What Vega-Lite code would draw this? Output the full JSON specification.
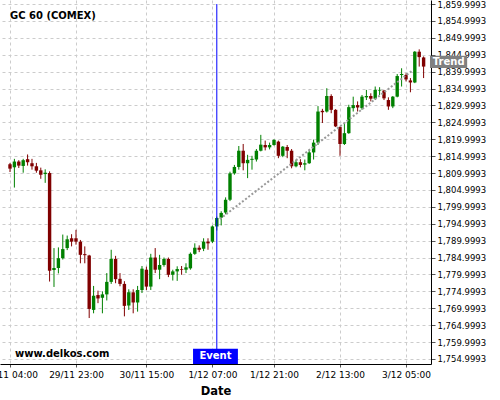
{
  "$schema": "https://vega.github.io/schema/vega-lite/v6.json",
  "width": 431,
  "height": 364,
  "autosize": {"type": "none"},
  "padding": {"left": 0, "top": 0, "right": 69, "bottom": 36},
  "background": "white",
  "config": {
    "view": {"stroke": null},
    "font": "DejaVu Sans",
    "axisX": {"titleFontSize": 11.5, "titleFontWeight": "bold", "titleColor": "black", "titlePadding": 6,
      "labelFontSize": 9, "labelColor": "black", "labelFlush": false, "labelOverlap": false, "labelPadding": 3,
      "domainColor": "black", "tickColor": "#555555", "tickSize": 3,
      "grid": true, "gridColor": "#cccccc", "gridDash": [3, 3]},
    "axisY": {"labelFontSize": 8.5, "labelColor": "black", "labelPadding": 2, "labelOverlap": false, "labelFlush": false,
      "domainColor": "black", "tickColor": "#555555", "tickSize": 4, "tickCount": 40,
      "grid": true, "gridColor": "#cccccc", "gridDash": [3, 3]}
  },
  "data": {"values": [
    {"i":0,"o":1812.6,"h":1813.0,"l":1810.3,"c":1811.3},
    {"i":1,"o":1811.7,"h":1814.2,"l":1805.7,"c":1813.4},
    {"i":2,"o":1813.4,"h":1813.8,"l":1811.5,"c":1812.2},
    {"i":3,"o":1812.1,"h":1814.2,"l":1810.1,"c":1813.8},
    {"i":4,"o":1814.1,"h":1815.5,"l":1812.2,"c":1813.2},
    {"i":5,"o":1812.9,"h":1814.2,"l":1811.0,"c":1812.0},
    {"i":6,"o":1812.0,"h":1813.0,"l":1810.1,"c":1810.7},
    {"i":7,"o":1810.8,"h":1811.6,"l":1808.3,"c":1809.5},
    {"i":8,"o":1809.7,"h":1811.1,"l":1807.1,"c":1810.1},
    {"i":9,"o":1810.0,"h":1810.5,"l":1777.9,"c":1781.1},
    {"i":10,"o":1781.3,"h":1787.8,"l":1776.3,"c":1781.9},
    {"i":11,"o":1781.9,"h":1788.0,"l":1780.3,"c":1784.8},
    {"i":12,"o":1784.8,"h":1791.8,"l":1784.4,"c":1787.5},
    {"i":13,"o":1787.8,"h":1791.5,"l":1787.2,"c":1790.4},
    {"i":14,"o":1790.7,"h":1791.9,"l":1788.3,"c":1789.7},
    {"i":15,"o":1790.7,"h":1793.2,"l":1788.8,"c":1789.7},
    {"i":16,"o":1789.7,"h":1790.2,"l":1783.3,"c":1785.8},
    {"i":17,"o":1786.0,"h":1788.3,"l":1783.3,"c":1785.7},
    {"i":18,"o":1785.6,"h":1785.8,"l":1767.1,"c":1769.8},
    {"i":19,"o":1769.5,"h":1776.6,"l":1768.5,"c":1773.7},
    {"i":20,"o":1773.9,"h":1775.2,"l":1771.5,"c":1772.9},
    {"i":21,"o":1773.1,"h":1775.0,"l":1768.5,"c":1774.1},
    {"i":22,"o":1774.1,"h":1780.4,"l":1772.3,"c":1777.8},
    {"i":23,"o":1777.8,"h":1787.3,"l":1777.2,"c":1784.6},
    {"i":24,"o":1784.6,"h":1785.5,"l":1777.4,"c":1778.6},
    {"i":25,"o":1778.7,"h":1780.4,"l":1776.5,"c":1777.2},
    {"i":26,"o":1777.2,"h":1778.0,"l":1767.6,"c":1770.7},
    {"i":27,"o":1770.8,"h":1775.6,"l":1769.5,"c":1774.7},
    {"i":28,"o":1774.7,"h":1775.6,"l":1768.5,"c":1771.7},
    {"i":29,"o":1771.7,"h":1776.6,"l":1769.0,"c":1775.4},
    {"i":30,"o":1775.4,"h":1782.5,"l":1774.5,"c":1781.7},
    {"i":31,"o":1781.4,"h":1782.3,"l":1775.4,"c":1776.4},
    {"i":32,"o":1776.4,"h":1786.1,"l":1775.4,"c":1785.0},
    {"i":33,"o":1785.0,"h":1787.8,"l":1780.4,"c":1781.4},
    {"i":34,"o":1781.4,"h":1785.8,"l":1778.6,"c":1782.8},
    {"i":35,"o":1782.8,"h":1785.0,"l":1782.3,"c":1784.6},
    {"i":36,"o":1784.6,"h":1785.0,"l":1779.2,"c":1779.9},
    {"i":37,"o":1779.9,"h":1781.4,"l":1778.2,"c":1780.9},
    {"i":38,"o":1780.9,"h":1782.4,"l":1778.1,"c":1781.6},
    {"i":39,"o":1781.6,"h":1782.5,"l":1779.9,"c":1781.4},
    {"i":40,"o":1781.4,"h":1783.3,"l":1780.4,"c":1782.1},
    {"i":41,"o":1781.8,"h":1786.5,"l":1781.4,"c":1786.1},
    {"i":42,"o":1786.1,"h":1789.2,"l":1785.8,"c":1787.9},
    {"i":43,"o":1787.9,"h":1788.6,"l":1786.6,"c":1787.3},
    {"i":44,"o":1787.6,"h":1790.7,"l":1786.9,"c":1789.7},
    {"i":45,"o":1789.7,"h":1790.7,"l":1787.3,"c":1789.2},
    {"i":46,"o":1789.7,"h":1794.5,"l":1789.3,"c":1794.2},
    {"i":47,"o":1794.2,"h":1797.1,"l":1793.0,"c":1796.7},
    {"i":48,"o":1796.8,"h":1798.7,"l":1794.5,"c":1798.2},
    {"i":49,"o":1798.3,"h":1802.8,"l":1797.8,"c":1802.1},
    {"i":50,"o":1802.1,"h":1810.4,"l":1801.7,"c":1809.9},
    {"i":51,"o":1809.9,"h":1812.4,"l":1809.5,"c":1811.8},
    {"i":52,"o":1811.8,"h":1818.0,"l":1811.0,"c":1816.6},
    {"i":53,"o":1816.6,"h":1818.6,"l":1810.8,"c":1812.9},
    {"i":54,"o":1812.9,"h":1815.4,"l":1808.5,"c":1813.9},
    {"i":55,"o":1813.9,"h":1815.1,"l":1811.0,"c":1814.2},
    {"i":56,"o":1814.0,"h":1817.1,"l":1813.4,"c":1816.6},
    {"i":57,"o":1816.6,"h":1821.3,"l":1816.4,"c":1818.4},
    {"i":58,"o":1818.3,"h":1819.6,"l":1816.7,"c":1817.6},
    {"i":59,"o":1817.6,"h":1819.0,"l":1817.0,"c":1818.3},
    {"i":60,"o":1818.3,"h":1820.0,"l":1818.1,"c":1819.8},
    {"i":61,"o":1819.3,"h":1819.6,"l":1814.4,"c":1815.1},
    {"i":62,"o":1815.1,"h":1818.0,"l":1814.7,"c":1817.8},
    {"i":63,"o":1817.7,"h":1818.3,"l":1814.4,"c":1816.6},
    {"i":64,"o":1816.6,"h":1817.1,"l":1811.4,"c":1812.0},
    {"i":65,"o":1812.0,"h":1813.9,"l":1811.7,"c":1813.2},
    {"i":66,"o":1813.2,"h":1814.1,"l":1811.7,"c":1812.4},
    {"i":67,"o":1812.5,"h":1814.0,"l":1810.8,"c":1812.9},
    {"i":68,"o":1812.9,"h":1816.9,"l":1812.7,"c":1816.1},
    {"i":69,"o":1816.1,"h":1819.9,"l":1814.0,"c":1819.0},
    {"i":70,"o":1819.0,"h":1829.8,"l":1818.3,"c":1828.2},
    {"i":71,"o":1828.4,"h":1829.0,"l":1824.8,"c":1828.0},
    {"i":72,"o":1828.2,"h":1835.1,"l":1827.9,"c":1832.8},
    {"i":73,"o":1832.8,"h":1833.3,"l":1827.7,"c":1828.7},
    {"i":74,"o":1828.7,"h":1828.9,"l":1823.6,"c":1823.8},
    {"i":75,"o":1823.6,"h":1823.8,"l":1815.1,"c":1818.6},
    {"i":76,"o":1818.6,"h":1824.7,"l":1818.3,"c":1821.8},
    {"i":77,"o":1821.8,"h":1830.2,"l":1821.6,"c":1829.5},
    {"i":78,"o":1829.2,"h":1832.6,"l":1828.2,"c":1830.1},
    {"i":79,"o":1830.1,"h":1831.2,"l":1828.2,"c":1829.4},
    {"i":80,"o":1829.2,"h":1833.1,"l":1828.7,"c":1832.6},
    {"i":81,"o":1832.4,"h":1834.6,"l":1831.6,"c":1832.8},
    {"i":82,"o":1832.8,"h":1833.6,"l":1831.2,"c":1832.0},
    {"i":83,"o":1832.0,"h":1835.6,"l":1831.6,"c":1834.6},
    {"i":84,"o":1834.4,"h":1835.4,"l":1833.1,"c":1834.6},
    {"i":85,"o":1834.4,"h":1834.6,"l":1831.6,"c":1832.1},
    {"i":86,"o":1831.6,"h":1832.4,"l":1828.7,"c":1829.7},
    {"i":87,"o":1829.7,"h":1832.8,"l":1829.2,"c":1832.6},
    {"i":88,"o":1832.6,"h":1839.3,"l":1832.4,"c":1838.7},
    {"i":89,"o":1839.0,"h":1841.0,"l":1835.6,"c":1839.3},
    {"i":90,"o":1839.0,"h":1839.5,"l":1837.1,"c":1837.7},
    {"i":91,"o":1837.4,"h":1838.1,"l":1833.9,"c":1836.8},
    {"i":92,"o":1836.8,"h":1846.1,"l":1836.6,"c":1845.9},
    {"i":93,"o":1845.9,"h":1846.6,"l":1841.5,"c":1844.3},
    {"i":94,"o":1844.2,"h":1844.5,"l":1838.1,"c":1841.5}
  ]},
  "layer": [
    {
      "mark": {"type": "rule", "strokeWidth": 1},
      "encoding": {
        "x": {"field": "i", "type": "quantitative", "title": "Date",
          "scale": {"domain": [-2.27, 95.68], "nice": false, "zero": false, "padding": 0},
          "axis": {"orient": "bottom", "values": [0, 15, 31, 46, 60, 75, 90], "tickCount": 20,
            "labelExpr": "datum.value == 0 ? '27/11 04:00' : datum.value == 15 ? '29/11 23:00' : datum.value == 31 ? '30/11 15:00' : datum.value == 46 ? '1/12 07:00' : datum.value == 60 ? '1/12 21:00' : datum.value == 75 ? '2/12 13:00' : '3/12 05:00'"}},
        "y": {"field": "l", "type": "quantitative", "title": null,
          "scale": {"domain": [1753.5, 1861.2], "nice": false, "zero": false, "padding": 0},
          "axis": {"orient": "right", "format": ",.4f", "tickCount": 40,
            "values": [1754.9993, 1759.9993, 1764.9993, 1769.9993, 1774.9993, 1779.9993, 1784.9993, 1789.9993, 1794.9993, 1799.9993, 1804.9993, 1809.9993, 1814.9993, 1819.9993, 1824.9993, 1829.9993, 1834.9993, 1839.9993, 1844.9993, 1849.9993, 1854.9993, 1859.9993]}},
        "y2": {"field": "h"},
        "color": {"condition": {"test": "datum.c >= datum.o", "value": "#008000"}, "value": "#800000"}
      }
    },
    {
      "mark": {"type": "bar", "size": 3.4},
      "encoding": {
        "x": {"field": "i", "type": "quantitative", "title": "Date", "scale": {"domain": [-2.27, 95.68], "nice": false, "zero": false, "padding": 0}},
        "y": {"field": "o", "type": "quantitative", "title": null, "scale": {"domain": [1753.5, 1861.2], "nice": false, "zero": false, "padding": 0}},
        "y2": {"field": "c"},
        "color": {"condition": {"test": "datum.c >= datum.o", "value": "#008000"}, "value": "#800000"}
      }
    },
    {
      "data": {"values": [{"t": "trend"}]},
      "mark": {"type": "rule", "color": "#999999", "strokeWidth": 2, "strokeDash": [2, 2]},
      "encoding": {
        "x": {"datum": 47.7, "type": "quantitative", "title": "Date", "scale": {"domain": [-2.27, 95.68], "nice": false, "zero": false, "padding": 0}},
        "x2": {"datum": 91.3},
        "y": {"datum": 1796.4, "type": "quantitative", "title": null, "scale": {"domain": [1753.5, 1861.2], "nice": false, "zero": false, "padding": 0}},
        "y2": {"datum": 1840.2}
      }
    },
    {
      "data": {"values": [{"t": "event"}]},
      "mark": {"type": "rule", "color": "#0000ff", "strokeWidth": 1},
      "encoding": {
        "x": {"datum": 47, "type": "quantitative", "title": "Date", "scale": {"domain": [-2.27, 95.68], "nice": false, "zero": false, "padding": 0}},
        "y": {"datum": 1860, "type": "quantitative", "title": null, "scale": {"domain": [1753.5, 1861.2], "nice": false, "zero": false, "padding": 0}},
        "y2": {"datum": 1753.5}
      }
    },
    {
      "data": {"values": [{"t": "Event"}]},
      "mark": {"type": "rect", "color": "#0000ff"},
      "encoding": {
        "x": {"datum": 41.6, "type": "quantitative", "title": "Date", "scale": {"domain": [-2.27, 95.68], "nice": false, "zero": false, "padding": 0}},
        "x2": {"datum": 51.8},
        "y": {"datum": 1753.5, "type": "quantitative", "title": null, "scale": {"domain": [1753.5, 1861.2], "nice": false, "zero": false, "padding": 0}},
        "y2": {"datum": 1758.0}
      }
    },
    {
      "data": {"values": [{"t": "Event"}]},
      "mark": {"type": "text", "color": "white", "fontWeight": "bold", "fontSize": 10, "baseline": "middle", "align": "center"},
      "encoding": {
        "x": {"datum": 46.7, "type": "quantitative", "title": "Date", "scale": {"domain": [-2.27, 95.68], "nice": false, "zero": false, "padding": 0}},
        "y": {"datum": 1755.75, "type": "quantitative", "title": null, "scale": {"domain": [1753.5, 1861.2], "nice": false, "zero": false, "padding": 0}},
        "text": {"field": "t"}
      }
    },
    {
      "data": {"values": [{"t": "Trend"}]},
      "mark": {"type": "rect", "color": "#808080"},
      "encoding": {
        "x": {"datum": 95.45, "type": "quantitative", "title": "Date", "scale": {"domain": [-2.27, 95.68], "nice": false, "zero": false, "padding": 0}},
        "x2": {"datum": 103.9},
        "y": {"datum": 1841.1, "type": "quantitative", "title": null, "scale": {"domain": [1753.5, 1861.2], "nice": false, "zero": false, "padding": 0}},
        "y2": {"datum": 1844.7}
      }
    },
    {
      "data": {"values": [{"t": "Trend"}]},
      "mark": {"type": "text", "color": "white", "fontWeight": "bold", "fontSize": 10, "baseline": "middle", "align": "center"},
      "encoding": {
        "x": {"datum": 99.7, "type": "quantitative", "title": "Date", "scale": {"domain": [-2.27, 95.68], "nice": false, "zero": false, "padding": 0}},
        "y": {"datum": 1842.9, "type": "quantitative", "title": null, "scale": {"domain": [1753.5, 1861.2], "nice": false, "zero": false, "padding": 0}},
        "text": {"field": "t"}
      }
    },
    {
      "data": {"values": [{"t": "GC 60 (COMEX)"}]},
      "mark": {"type": "text", "color": "black", "fontWeight": "bold", "fontSize": 10, "baseline": "alphabetic", "align": "left"},
      "encoding": {
        "x": {"datum": 0, "type": "quantitative", "title": "Date", "scale": {"domain": [-2.27, 95.68], "nice": false, "zero": false, "padding": 0}},
        "y": {"datum": 1855.5, "type": "quantitative", "title": null, "scale": {"domain": [1753.5, 1861.2], "nice": false, "zero": false, "padding": 0}},
        "text": {"field": "t"}
      }
    },
    {
      "data": {"values": [{"t": "www.delkos.com"}]},
      "mark": {"type": "text", "color": "black", "fontWeight": "bold", "fontSize": 10, "baseline": "alphabetic", "align": "left"},
      "encoding": {
        "x": {"datum": 1.14, "type": "quantitative", "title": "Date", "scale": {"domain": [-2.27, 95.68], "nice": false, "zero": false, "padding": 0}},
        "y": {"datum": 1755.6, "type": "quantitative", "title": null, "scale": {"domain": [1753.5, 1861.2], "nice": false, "zero": false, "padding": 0}},
        "text": {"field": "t"}
      }
    }
  ]
}
